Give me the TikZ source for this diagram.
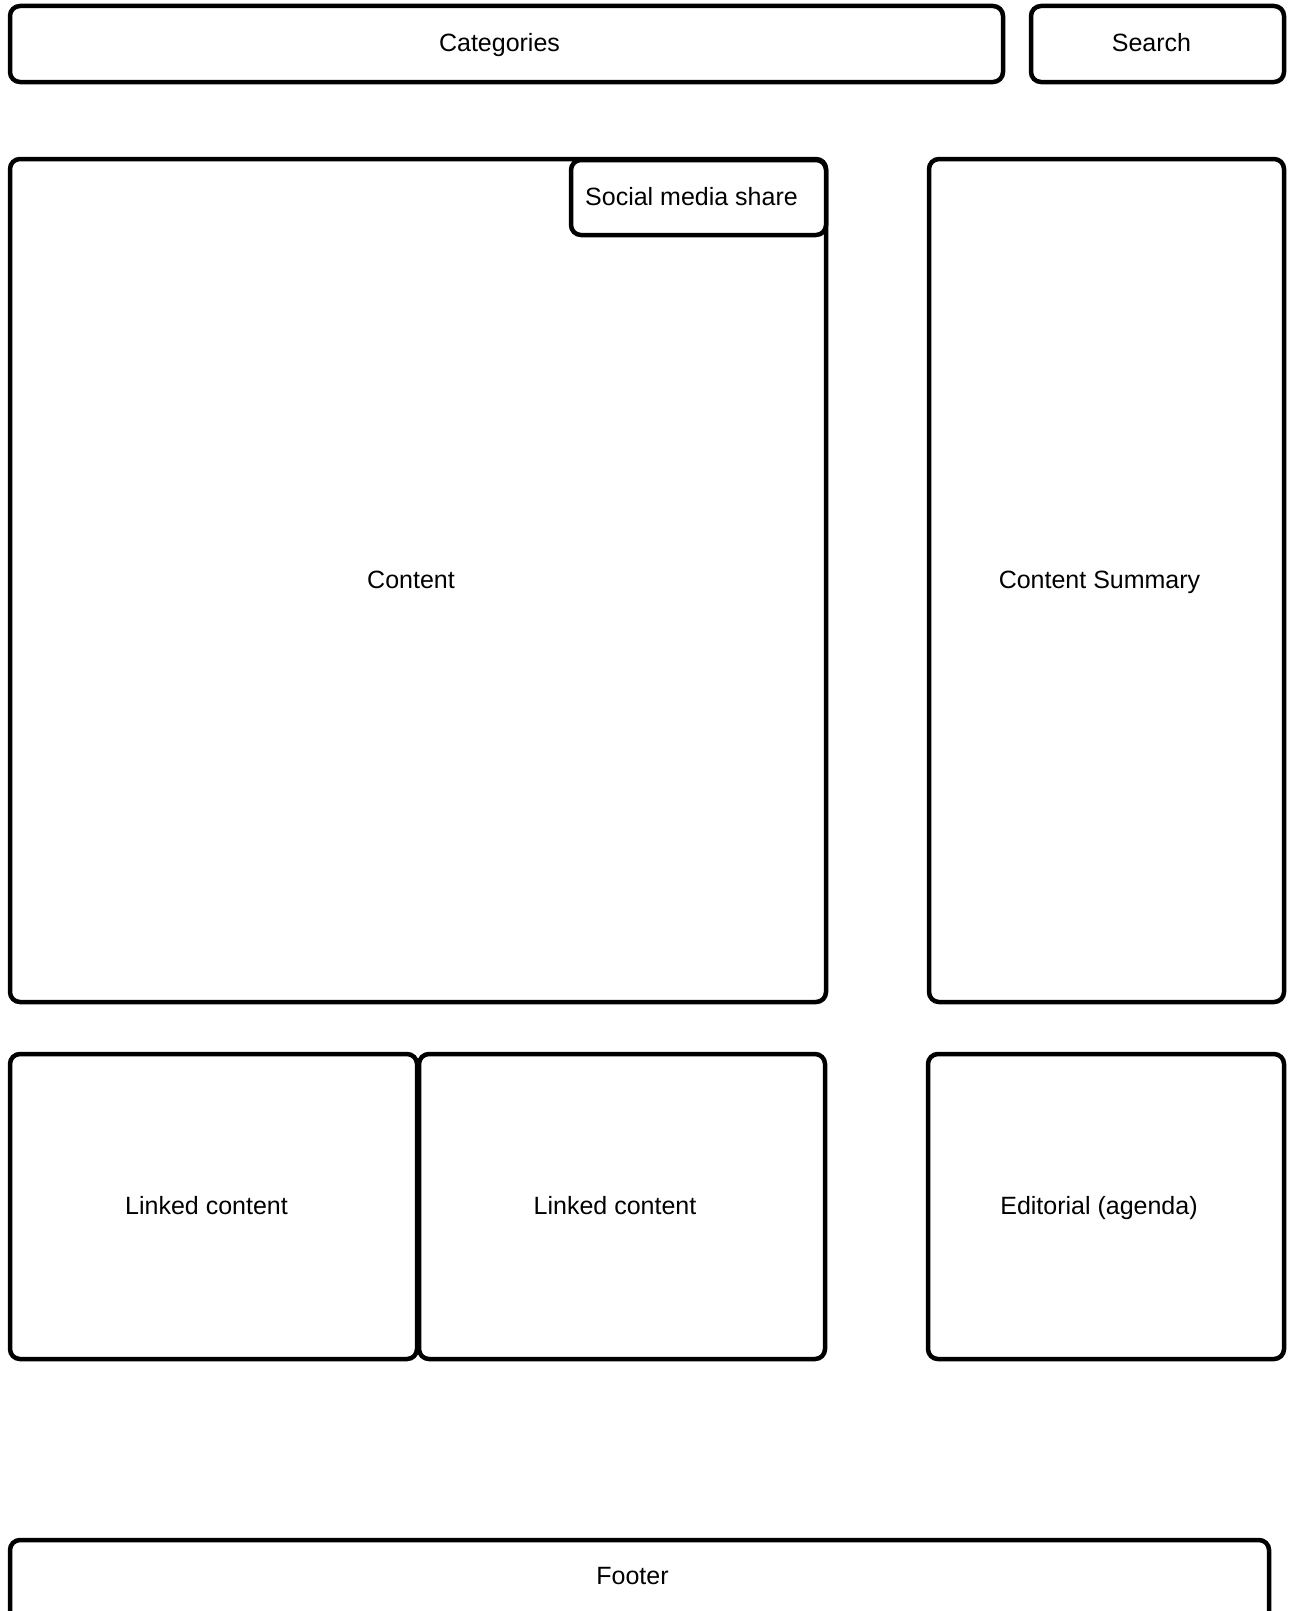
\documentclass[tikz,border=0pt]{standalone}
\usepackage{fontspec}
\setmainfont{Liberation Sans}
\begin{document}
\begin{tikzpicture}[x=1pt,y=-1pt,
  box/.style={draw=black, line width=4.5pt, rounded corners=10pt, fill=white, inner sep=0pt, outer sep=0pt, rectangle},
  lbl/.style={anchor=base, inner sep=0pt, font=\fontsize{25}{30}\selectfont}]
\useasboundingbox (0,0) rectangle (1289,1611);
\clip (0,0) rectangle (1289,1611);
\fill[white] (0,0) rectangle (1289,1611);
% top bar
\node[box, minimum width=993pt, minimum height=76pt] (cat) at (506.5,44) {};
\node[box, minimum width=253pt, minimum height=76pt] (search) at (1157.5,44) {};
% main
\node[box, minimum width=816pt, minimum height=843pt] (content) at (418,580.5) {};
\node[box, minimum width=255pt, minimum height=75pt] (social) at (698.5,197.5) {};
\node[box, minimum width=355pt, minimum height=843pt] (summary) at (1106.5,580.5) {};
% lower row
\node[box, minimum width=407pt, minimum height=305pt] (linked1) at (213.5,1206.5) {};
\node[box, minimum width=406pt, minimum height=305pt] (linked2) at (622,1206.5) {};
\node[box, minimum width=356pt, minimum height=305pt] (editorial) at (1106,1206.5) {};
% footer
\node[box, minimum width=1259pt, minimum height=100pt] (footer) at (639.5,1590) {};
% labels
\node[lbl] (catl) at ([xshift=-7pt,yshift=-8pt]cat.center) {Categories};
\node[lbl] (searchl) at ([xshift=-6pt,yshift=-8pt]search.center) {Search};
\node[lbl] (sociall) at ([xshift=-7pt,yshift=-8pt]social.center) {Social media share};
\node[lbl] (contentl) at ([xshift=-7pt,yshift=-8pt]content.center) {Content};
\node[lbl] (summaryl) at ([xshift=-7pt,yshift=-8pt]summary.center) {Content Summary};
\node[lbl] (linked1l) at ([xshift=-7pt,yshift=-8pt]linked1.center) {Linked content};
\node[lbl] (linked2l) at ([xshift=-7pt,yshift=-8pt]linked2.center) {Linked content};
\node[lbl] (editoriall) at ([xshift=-7pt,yshift=-8pt]editorial.center) {Editorial (agenda)};
\node[lbl] (footerl) at (632.5,1584) {Footer};
\end{tikzpicture}
\end{document}
